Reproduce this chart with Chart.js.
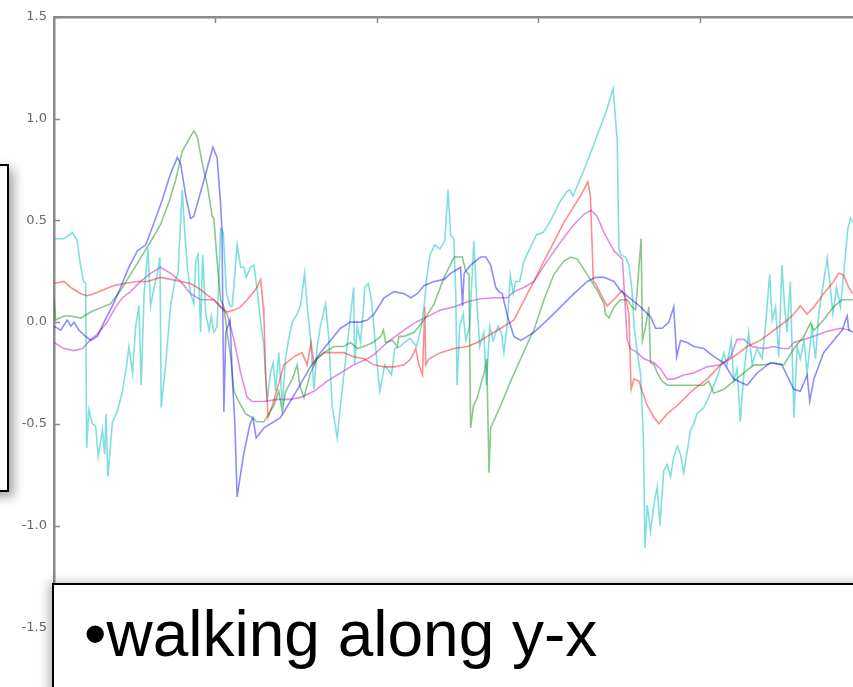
<!DOCTYPE html>
<html>
<head>
<meta charset="utf-8">
<script src="https://cdn.jsdelivr.net/npm/chart.js@4.4.0/dist/chart.umd.min.js"></script>
<style>
  html, body { margin: 0; padding: 0; background: #fff; overflow: hidden; }
  #wrap { position: relative; width: 853px; height: 687px; overflow: hidden; }
  #myChart { position: absolute; left: 0; top: 0; }
  .leftBox {
    position: absolute; left: -30px; top: 164px; width: 35px; height: 324px;
    border: 2px solid #000; background: #fff;
    box-shadow: 5px 5px 10px rgba(0,0,0,0.35);
  }
  .textBox {
    position: absolute; left: 52px; top: 583px; width: 900px; height: 200px;
    border: 2px solid #000; background: #fff;
    box-shadow: -3px 0 10px rgba(0,0,0,0.3);
  }
  .textBox span {
    position: absolute; left: 30px; top: 12px; white-space: nowrap;
    font-family: "Liberation Sans", Arial, sans-serif; font-size: 64px; color: #000;
  }
</style>
</head>
<body>
<div id="wrap">
  <canvas id="myChart" width="853" height="687"></canvas>
  <div class="leftBox"></div>
  <div class="textBox"><span>•walking along y-x</span></div>
</div>
<script>
// y tick labels on the left, x ticks (unlabelled) along the top
const yTicks = [-1.5, -1.0, -0.5, 0.0, 0.5, 1.0, 1.5];
const xTicks = [50, 100, 150, 200];

// series (x = sample position, y = value)
const blueX = [0,2.1,4.1,5.2,6.2,7.7,9.8,11.4,13.4,15.5,18.1,20.6,23.2,25.8,28.4,31.0,33.5,36.1,38.2,39.2,40.8,42.3,43.3,45.4,47.5,49.2,50.5,51.5,52.0,52.6,53.2,54.5,55.3,56.0,56.7,58.6,60.7,61.6,62.6,65.0,70.1,74.3,79.4,82.5,85.6,88.7,91.8,94.9,97.0,99.1,102.2,105.3,108.4,110.5,112.5,114.6,117.7,120.8,122.8,125.9,126.5,127.0,129.0,132.1,133.7,135.2,136.8,137.8,138.8,140.4,142.4,144.5,146.6,148.6,152.7,156.9,161.0,165.1,167.7,170.3,173.4,175.4,178.5,181.6,184.7,186.3,188.3,190.4,191.9,192.8,194.0,196.1,198.1,201.2,204.3,207.4,208.9,210.5,214.6,217.7,221.8,225.4,227.5,229.1,231.1,233.2,234.0,235.3,238.3,241.4,244.0,245.6,246.1,247.3];
const blueY = [-0.02,-0.04,0.01,-0.02,0.0,-0.04,-0.07,-0.09,-0.07,0.0,0.08,0.17,0.27,0.35,0.38,0.49,0.60,0.73,0.81,0.78,0.62,0.51,0.52,0.64,0.76,0.86,0.81,0.60,0.46,-0.44,-0.05,0.01,-0.30,-0.50,-0.86,-0.66,-0.50,-0.47,-0.57,-0.52,-0.47,-0.36,-0.22,-0.15,-0.09,-0.03,0.0,0.0,0.01,0.04,0.12,0.15,0.14,0.12,0.14,0.18,0.20,0.21,0.24,0.27,0.08,0.24,0.28,0.32,0.32,0.28,0.17,0.15,0.14,0.03,-0.07,-0.09,-0.07,-0.05,0.01,0.075,0.14,0.20,0.22,0.22,0.20,0.155,0.115,0.075,0.027,-0.03,-0.03,0.0,0.075,-0.17,-0.09,-0.10,-0.12,-0.13,-0.17,-0.20,-0.24,-0.28,-0.31,-0.25,-0.20,-0.21,-0.28,-0.33,-0.34,-0.26,-0.39,-0.28,-0.15,-0.09,-0.04,0.03,-0.04,-0.05];

const greenX = [0,0.5,3.1,5.2,8.3,11.4,14.4,17.5,20.6,23.7,26.8,29.9,33.0,35.6,37.7,39.7,41.8,43.3,44.4,45.9,47.5,49.0,49.5,50.5,51.6,52.6,53.6,54.7,55.7,57.2,59.3,61.4,62.9,65.0,66.5,68.1,69.6,70.7,71.7,73.8,75.3,76.1,77.4,79.4,81.5,83.6,86.7,89.7,91.8,93.9,95.9,98.8,101.2,102.0,102.7,104.8,106.3,106.8,108.4,111.5,114.6,117.7,120.8,123.9,126.4,127.5,128.5,129.0,129.9,131.1,132.6,133.2,134.0,134.7,135.2,138.3,141.4,144.5,147.6,148.6,151.7,154.8,157.9,160.0,162.0,165.1,168.2,170.3,170.8,171.8,173.4,175.4,177.5,179.0,180.1,181.8,182.2,183.2,184.2,184.7,185.8,186.8,188.3,189.9,193.0,196.1,198.1,201.2,202.7,204.3,207.4,210.5,213.6,216.7,219.8,222.9,226.0,229.1,232.2,234.2,235.3,238.3,241.4,244.0,247.3];
const greenY = [0.11,0.01,0.03,0.03,0.02,0.05,0.07,0.09,0.155,0.235,0.315,0.395,0.48,0.59,0.70,0.84,0.90,0.94,0.91,0.78,0.67,0.52,0.51,0.30,0.11,0.075,-0.05,-0.17,-0.34,-0.39,-0.45,-0.47,-0.49,-0.49,-0.45,-0.41,-0.34,-0.44,-0.34,-0.28,-0.21,-0.31,-0.37,-0.25,-0.18,-0.15,-0.12,-0.12,-0.10,-0.13,-0.12,-0.10,-0.07,-0.04,-0.10,-0.09,-0.12,-0.07,-0.07,-0.05,0.01,0.09,0.22,0.32,0.32,0.25,0.235,-0.52,-0.41,-0.37,-0.28,-0.25,-0.18,-0.74,-0.52,-0.41,-0.29,-0.18,-0.07,-0.04,0.11,0.235,0.30,0.32,0.31,0.235,0.155,0.09,0.04,0.02,0.075,0.11,0.11,0.075,0.06,0.41,-0.09,-0.02,0.075,-0.20,-0.21,-0.25,-0.29,-0.31,-0.31,-0.31,-0.31,-0.31,-0.29,-0.35,-0.33,-0.29,-0.25,-0.21,-0.21,-0.20,-0.21,-0.13,-0.07,-0.005,-0.04,0.01,0.075,0.11,0.11];

const redX = [0,3.1,5.2,8.3,10.3,12.4,15.5,18.6,21.7,25.8,28.9,33.0,36.1,39.2,42.3,45.4,48.5,49.5,51.6,53.6,55.7,57.8,59.8,62.4,64.0,64.8,65.0,65.5,66.3,67.6,69.1,71.2,74.3,76.8,78.4,79.6,80.5,81.5,83.6,86.7,89.7,92.8,95.9,99.1,102.2,105.3,108.4,110.5,112.0,113.0,114.1,114.8,115.1,116.1,119.7,123.9,128.0,131.1,134.2,137.3,140.4,142.4,144.5,146.6,148.6,151.7,154.8,157.9,161.0,163.0,165.3,166.1,167.0,167.7,169.2,171.3,173.9,175.9,177.0,178.0,178.7,179.6,181.1,182.1,183.7,185.8,187.3,189.9,193.0,196.1,198.1,202.2,206.4,210.5,214.6,218.7,222.9,227.0,229.1,231.1,233.2,235.3,238.3,241.4,243.0,244.5,246.1,247.3];
const redY = [0.19,0.20,0.17,0.14,0.13,0.14,0.16,0.18,0.19,0.20,0.20,0.22,0.21,0.20,0.19,0.16,0.12,0.11,0.075,0.05,0.06,0.075,0.11,0.16,0.21,0.075,0.03,-0.25,-0.47,-0.41,-0.33,-0.21,-0.17,-0.15,-0.21,-0.10,-0.21,-0.18,-0.15,-0.15,-0.15,-0.17,-0.18,-0.21,-0.22,-0.22,-0.21,-0.18,-0.13,-0.21,-0.26,0.075,-0.21,-0.18,-0.15,-0.13,-0.12,-0.10,-0.07,-0.04,-0.01,0.01,0.075,0.14,0.20,0.30,0.395,0.49,0.57,0.62,0.69,0.62,0.20,0.19,0.14,0.08,0.12,0.155,0.12,0.04,-0.33,-0.28,-0.29,-0.34,-0.41,-0.47,-0.50,-0.45,-0.41,-0.36,-0.33,-0.28,-0.21,-0.17,-0.12,-0.09,-0.04,0.01,0.04,0.08,0.04,0.075,0.14,0.20,0.24,0.23,0.17,0.14];

const cyanX = [0,3.1,5.7,7.2,8.0,9.1,9.8,10.1,10.8,11.9,12.9,13.7,15.0,15.7,16.1,16.7,18.1,19.6,21.2,22.5,23.2,24.3,25.3,26.3,27.0,27.9,29.1,29.9,31.0,32.0,32.8,33.2,34.6,36.1,37.4,38.4,39.7,40.5,41.3,42.3,43.3,43.9,44.6,45.4,46.0,47.0,48.0,48.7,49.5,50.5,51.6,52.4,53.4,54.5,55.2,56.7,57.8,58.8,59.5,60.9,61.9,62.9,64.0,65.0,66.0,67.0,67.9,68.6,69.6,70.7,71.7,72.7,73.8,75.3,76.3,77.6,78.4,79.4,80.5,81.5,82.5,84.1,85.1,86.1,87.7,88.7,90.3,91.8,92.8,93.1,93.9,94.9,95.9,96.2,97.3,98.3,99.9,100.9,102.4,104.5,105.5,107.1,108.6,110.2,112.2,113.8,114.8,115.3,116.4,117.9,119.5,121.0,122.0,122.8,123.8,124.4,124.8,125.6,126.7,127.5,128.7,130.0,130.8,131.8,133.1,133.9,134.9,136.0,137.5,138.5,139.3,140.3,141.3,142.2,143.0,144.2,145.5,147.3,149.4,151.4,153.5,156.6,158.7,159.7,160.7,162.3,164.9,168.0,171.1,173.1,174.4,174.9,175.6,177.0,178.0,179.0,179.6,180.6,181.6,182.5,183.0,183.7,184.7,185.8,186.8,187.6,188.8,189.9,190.9,191.9,193.0,194.0,195.0,196.1,197.1,198.1,199.1,201.2,202.7,204.3,205.8,207.4,208.4,209.7,210.5,211.5,212.5,213.6,215.1,216.2,217.7,219.3,220.3,221.6,222.4,223.4,224.4,225.4,226.2,227.0,228.0,229.1,230.1,231.1,232.2,233.2,234.7,235.8,236.8,238.3,239.4,240.2,241.2,242.3,243.5,244.5,245.8,246.6,247.3];
const cyanY = [0.41,0.41,0.44,0.40,0.30,0.20,0.19,-0.62,-0.43,-0.50,-0.51,-0.66,-0.53,-0.65,-0.45,-0.76,-0.49,-0.44,-0.34,-0.21,-0.12,-0.25,-0.02,0.08,-0.31,0.14,0.36,0.08,0.17,0.24,0.32,-0.42,-0.20,0.08,0.20,0.24,0.65,0.44,0.27,0.14,0.09,0.30,0.33,-0.05,0.33,0.04,-0.04,0.03,-0.05,-0.02,0.46,0.44,0.14,0.08,0.08,0.38,0.27,0.27,0.22,0.27,0.28,0.16,0.0,-0.12,-0.39,-0.25,-0.20,-0.34,-0.15,-0.41,-0.18,-0.08,0.0,0.04,0.08,0.24,0.08,-0.08,-0.33,-0.12,-0.02,0.09,-0.08,-0.41,-0.57,-0.41,-0.18,0.03,0.17,-0.21,-0.02,-0.10,0.08,0.17,0.19,0.11,-0.18,-0.34,-0.21,-0.26,-0.13,-0.12,-0.10,-0.08,-0.12,-0.02,0.11,0.20,0.33,0.38,0.36,0.40,0.65,0.43,0.41,0.14,-0.31,-0.02,0.04,-0.09,-0.02,0.40,0.14,-0.12,-0.05,-0.31,-0.02,-0.09,-0.02,-0.05,-0.15,-0.02,0.23,0.14,0.20,0.20,0.30,0.36,0.43,0.44,0.49,0.59,0.64,0.65,0.62,0.68,0.78,0.91,1.04,1.15,0.89,0.36,0.33,0.32,0.28,0.155,-0.02,-0.15,-0.25,-0.57,-1.11,-0.90,-1.03,-0.89,-0.81,-1.00,-0.73,-0.70,-0.76,-0.66,-0.61,-0.65,-0.74,-0.63,-0.53,-0.50,-0.45,-0.42,-0.37,-0.31,-0.25,-0.15,-0.21,-0.09,-0.29,-0.23,-0.49,-0.25,-0.05,-0.21,-0.13,-0.18,-0.02,0.235,0.01,0.075,-0.17,0.28,0.075,-0.05,0.20,-0.47,-0.12,-0.18,-0.09,-0.25,-0.02,-0.18,0.04,0.20,0.315,0.20,0.04,0.17,0.075,0.235,0.46,0.51,0.49];

const magentaX = [0,3.1,6.2,8.8,11.4,13.4,16.5,19.1,21.2,23.7,26.8,29.9,33.0,36.1,39.2,42.3,45.4,48.5,49.5,51.6,53.6,55.7,57.8,59.8,61.4,65.0,69.1,73.2,76.3,80.5,84.6,88.7,92.8,97.0,99.1,103.2,107.4,111.5,115.6,119.7,123.9,128.0,132.1,136.3,140.4,142.4,145.5,148.6,152.7,156.9,161.0,164.1,166.3,168.2,170.3,173.4,176.0,177.5,178.5,180.6,182.7,185.8,187.8,189.9,191.9,195.0,198.1,202.2,206.4,209.5,211.5,213.6,216.2,219.8,222.9,225.4,227.5,229.1,232.2,235.3,239.4,243.5,246.6];
const magentaY = [-0.10,-0.13,-0.14,-0.13,-0.085,-0.06,0.0,0.075,0.12,0.15,0.20,0.24,0.27,0.24,0.20,0.14,0.11,0.11,0.11,0.075,0.04,-0.085,-0.25,-0.37,-0.39,-0.39,-0.38,-0.38,-0.37,-0.34,-0.29,-0.25,-0.21,-0.18,-0.16,-0.10,-0.05,-0.005,0.027,0.06,0.075,0.10,0.115,0.12,0.12,0.15,0.17,0.20,0.30,0.395,0.48,0.53,0.55,0.52,0.44,0.35,0.31,-0.09,-0.13,-0.15,-0.18,-0.20,-0.23,-0.28,-0.28,-0.26,-0.25,-0.22,-0.21,-0.17,-0.085,-0.085,-0.12,-0.13,-0.12,-0.13,-0.13,-0.10,-0.085,-0.07,-0.045,-0.03,-0.04];

function pts(xs, ys) {
    return xs.map((x, i) => ({x: x, y: ys[i]}));
}

function line(data, color) {
    return {
        data: data,
        borderColor: color,
        borderWidth: 1.6,
        pointRadius: 0,
        tension: 0,
        fill: false
    };
}

// short ticks drawn inside the axes, like the original plot
const innerTicks = {
    id: 'innerTicks',
    afterDraw(chart) {
        const ctx = chart.ctx;
        const area = chart.chartArea;
        const xs = chart.scales.x;
        const ys = chart.scales.y;
        ctx.save();
        ctx.strokeStyle = '#8a8a8a';
        ctx.lineWidth = 1.5;
        ctx.beginPath();
        yTicks.forEach(v => {
            const py = Math.round(ys.getPixelForValue(v)) + 0.5;
            ctx.moveTo(area.left, py);
            ctx.lineTo(area.left + 6, py);
        });
        xTicks.forEach(v => {
            const px = Math.round(xs.getPixelForValue(v)) + 0.5;
            ctx.moveTo(px, area.top);
            ctx.lineTo(px, area.top + 6);
        });
        ctx.stroke();
        ctx.restore();
    }
};

const ctx = document.querySelector('#myChart').getContext('2d');
const myChart = new Chart(ctx, {
    type: 'line',
    data: {
        datasets: [
            line(pts(blueX, blueY), 'rgba(0, 0, 255, 0.45)'),
            line(pts(greenX, greenY), 'rgba(0, 128, 0, 0.45)'),
            line(pts(redX, redY), 'rgba(255, 0, 0, 0.45)'),
            line(pts(cyanX, cyanY), 'rgba(0, 191, 191, 0.5)'),
            line(pts(magentaX, magentaY), 'rgba(191, 0, 191, 0.45)')
        ]
    },
    options: {
        responsive: false,
        animation: false,
        devicePixelRatio: 1,
        layout: { padding: { top: 17, left: 0, right: 0, bottom: 0 } },
        plugins: { legend: { display: false }, tooltip: { enabled: false } },
        scales: {
            x: {
                type: 'linear',
                position: 'top',
                min: 0,
                max: 247.4,
                ticks: { display: false },
                grid: { drawOnChartArea: false, drawTicks: false },
                border: { color: '#8a8a8a', width: 2.5 },
                afterFit(scale) { scale.height = 0; }
            },
            y: {
                min: -1.721,
                max: 1.5,
                afterBuildTicks(scale) {
                    scale.ticks = yTicks.map(v => ({value: v}));
                },
                ticks: {
                    padding: 7,
                    color: '#686868',
                    font: { family: 'DejaVu Sans', size: 13 },
                    callback: v => v.toFixed(1)
                },
                grid: { drawOnChartArea: false, drawTicks: false },
                border: { color: '#8a8a8a', width: 2.5 },
                afterFit(scale) { scale.width = 54; }
            }
        }
    },
    plugins: [innerTicks]
});
</script>
</body>
</html>
